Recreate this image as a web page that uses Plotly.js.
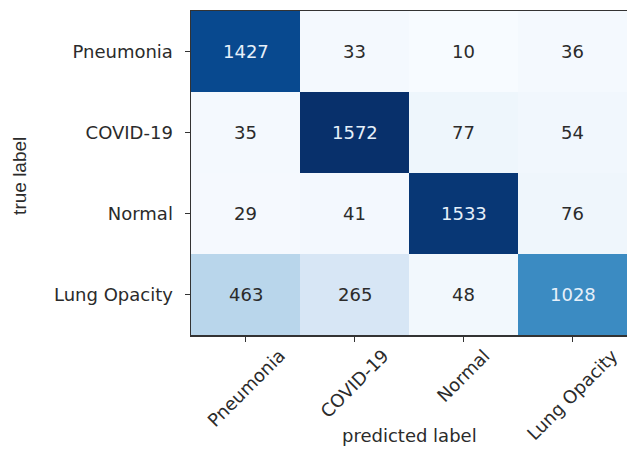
<!DOCTYPE html>
<html>
<head>
<meta charset="utf-8">
<script src="https://cdn.plot.ly/plotly-3.0.1.min.js"></script>
<style>
  html, body { margin: 0; padding: 0; background: #ffffff; }
  #chart { width: 627px; height: 449px; }
</style>
</head>
<body>
<div id="chart"></div>
<script>
// Class names (rows = true label, columns = predicted label)
const trueLabels = ["Pneumonia", "COVID-19", "Normal", "Lung Opacity"];
const predictedLabels = ["Pneumonia", "COVID-19", "Normal", "Lung Opacity"];

// Confusion matrix counts, one array per true-label row
const rowPneumonia = [1427, 33, 10, 36];
const rowCovid = [35, 1572, 77, 54];
const rowNormal = [29, 41, 1533, 76];
const rowLungOpacity = [463, 265, 48, 1028];
const counts = [rowPneumonia, rowCovid, rowNormal, rowLungOpacity];

// matplotlib "Blues" colormap
const blues = [
  [0.0, "#f7fbff"], [0.125, "#deebf7"], [0.25, "#c6dbef"],
  [0.375, "#9ecae1"], [0.5, "#6baed6"], [0.625, "#4292c6"],
  [0.75, "#2171b5"], [0.875, "#08519c"], [1.0, "#08306b"]
];

const flat = counts.flat();
const zmin = Math.min(...flat);
const zmax = Math.max(...flat);
const threshold = zmax / 2;

const font = "DejaVu Sans, sans-serif";
const textColor = "#2b2b2b";

// Cell value labels: white on dark cells, dark grey on light ones
const annotations = [];
counts.forEach((row, i) => {
  row.forEach((v, j) => {
    annotations.push({
      x: predictedLabels[j], y: trueLabels[i], xref: "x", yref: "y",
      text: String(v), showarrow: false,
      font: { family: font, size: 18, color: v > threshold ? "#e6f0fa" : textColor }
    });
  });
});

// Rotated x tick labels, centred under each tick
predictedLabels.forEach((lab) => {
  annotations.push({
    x: lab, xref: "x", y: -0.028, yref: "paper",
    text: lab, textangle: -45, showarrow: false,
    xanchor: "center", yanchor: "top", borderpad: 0,
    font: { family: font, size: 18, color: textColor }
  });
});

// Axis titles
annotations.push({
  x: 0.5, xref: "paper", y: -0.31, yref: "paper",
  text: "predicted label", showarrow: false, xanchor: "center", yanchor: "middle",
  font: { family: font, size: 18, color: textColor }
});
annotations.push({
  x: -0.393, xref: "paper", y: 0.49, yref: "paper",
  text: "true label", textangle: -90, showarrow: false, xanchor: "center", yanchor: "middle",
  font: { family: "Liberation Sans, sans-serif", size: 19, color: textColor }
});

const trace = {
  type: "heatmap",
  x: predictedLabels,
  y: trueLabels,
  z: counts,
  zmin: zmin,
  zmax: zmax,
  colorscale: blues,
  showscale: false,
  xgap: 0, ygap: 0,
  hoverinfo: "x+y+z"
};

const layout = {
  width: 627,
  height: 449,
  margin: { l: 191, r: 0, t: 11, b: 114 },
  paper_bgcolor: "#ffffff",
  plot_bgcolor: "#ffffff",
  xaxis: {
    type: "category",
    showgrid: false, zeroline: false,
    showline: true, mirror: true, linecolor: "#333333", linewidth: 1.5,
    ticks: "outside", ticklen: 5, tickcolor: "#333333",
    showticklabels: false,
    fixedrange: true
  },
  yaxis: {
    type: "category",
    autorange: "reversed",
    showgrid: false, zeroline: false,
    showline: true, mirror: false, linecolor: "#333333", linewidth: 1.5,
    ticks: "outside", ticklen: 5, tickcolor: "#333333",
    ticklabelstandoff: 8,
    tickfont: { family: font, size: 18, color: textColor },
    fixedrange: true
  },
  annotations: annotations
};

Plotly.newPlot("chart", [trace], layout, { displayModeBar: false, staticPlot: true });
</script>
</body>
</html>
